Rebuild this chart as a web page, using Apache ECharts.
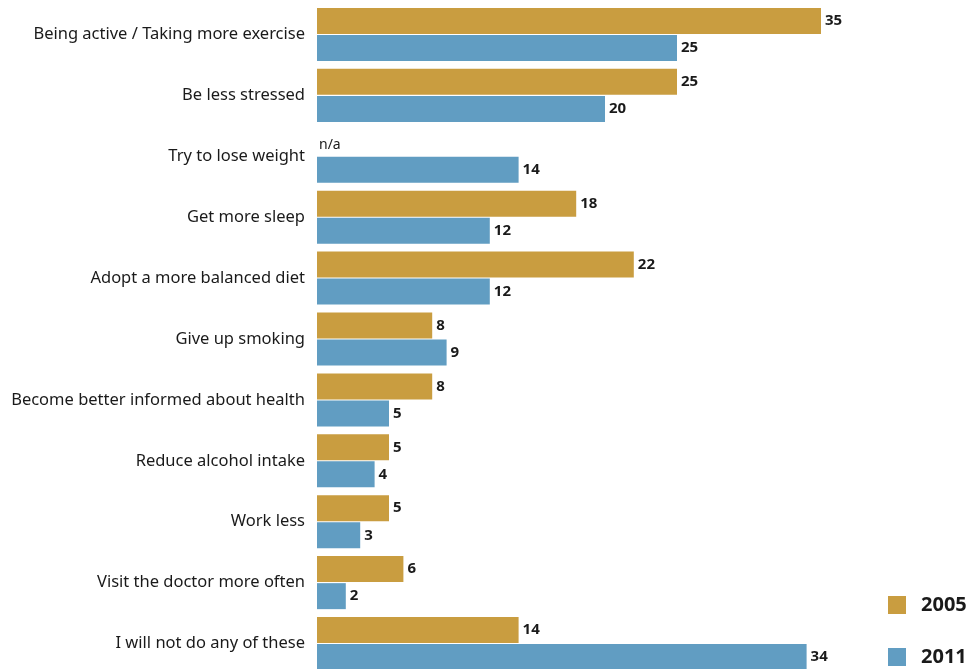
<!DOCTYPE html>
<html>
<head>
<meta charset="utf-8">
<script src="https://cdn.jsdelivr.net/npm/echarts@6/dist/echarts.min.js"></script>
<style>
  html, body { margin: 0; padding: 0; background: #fff; }
  #chart { width: 977px; height: 669px; }
</style>
</head>
<body>
<div id="chart"></div>
<script>
// categories, top to bottom
var categories = [
  'Being active / Taking more exercise',
  'Be less stressed',
  'Try to lose weight',
  'Get more sleep',
  'Adopt a more balanced diet',
  'Give up smoking',
  'Become better informed about health',
  'Reduce alcohol intake',
  'Work less',
  'Visit the doctor more often',
  'I will not do any of these'
]
// null = n/a
var values2005 = [35, 25, null, 18, 22, 8, 8, 5, 5, 6, 14]
var values2011 = [25, 20, 14, 12, 12, 9, 5, 4, 3, 2, 34]

var gold = '#c99d40'
var blue = '#619dc2'
var font = 'Noto Sans'

// n/a entries become zero-width bars with a plain label
function toData(arr) {
  return arr.map(function (v) {
    if (v === null) {
      return {
        value: 0,
        label: { formatter: 'n/a', fontWeight: 'normal', fontSize: 14, offset: [-2, 2] }
      }
    }
    return v
  })
}

var chart = echarts.init(document.getElementById('chart'))
var valueLabel = {
  show: true,
  position: 'right',
  distance: 4,
  color: '#1a1a1a',
  fontFamily: font,
  fontWeight: 'bold',
  fontSize: 15
}

var option = {
  animation: false,
  textStyle: { fontFamily: font },
  grid: { left: 317, right: 84, top: 4, height: 670, outerBoundsMode: 'none' },
  legend: {
    orient: 'vertical',
    left: 888,
    top: 595,
    padding: 0,
    itemWidth: 18,
    itemHeight: 18,
    itemGap: 32,
    icon: 'rect',
    textStyle: { fontFamily: font, fontSize: 20, fontWeight: 'bold', color: '#1a1a1a', padding: [0, 0, 0, 10] },
    data: ['2005', '2011']
  },
  xAxis: {
    type: 'value',
    min: 0,
    max: 40,
    show: false
  },
  yAxis: {
    type: 'category',
    inverse: true,
    data: categories,
    axisLine: { show: false },
    axisTick: { show: false },
    axisLabel: {
      margin: 12,
      color: '#1a1a1a',
      fontFamily: font,
      fontSize: 16.5
    }
  },
  series: [
    {
      name: '2005',
      type: 'bar',
      barWidth: 26,
      barGap: '4%',
      itemStyle: { color: gold },
      label: valueLabel,
      data: toData(values2005)
    },
    {
      name: '2011',
      type: 'bar',
      barWidth: 26,
      barGap: '4%',
      itemStyle: { color: blue },
      label: valueLabel,
      data: toData(values2011)
    }
  ]
}
chart.setOption(option)
</script>
</body>
</html>
